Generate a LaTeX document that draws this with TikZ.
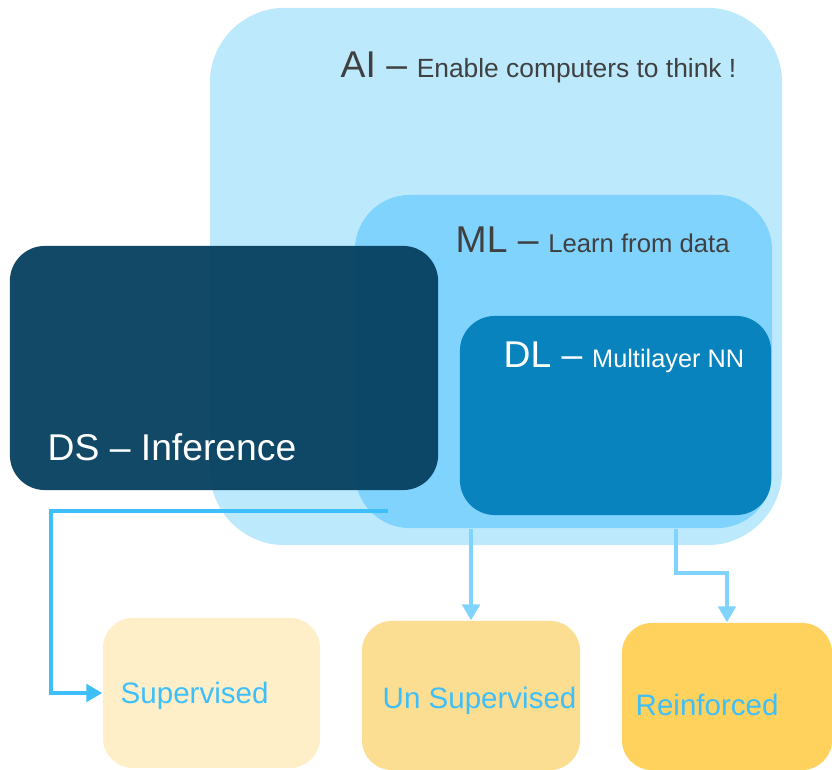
\documentclass[tikz,border=0pt]{standalone}
\usepackage{fontspec}
\setmainfont{Liberation Sans}
\usetikzlibrary{arrows.meta}
\definecolor{AIC}{RGB}{189,233,253}
\definecolor{MLC}{RGB}{128,211,253}
\definecolor{DLC}{RGB}{8,131,190}
\definecolor{DSC}{RGB}{8,66,97}
\definecolor{TXT}{RGB}{64,64,64}
\definecolor{LBL}{RGB}{62,191,249}
\definecolor{S1}{RGB}{254,239,201}
\definecolor{S2}{RGB}{252,222,146}
\definecolor{S3}{RGB}{255,210,94}
\tikzset{
  area/.style={inner sep=0pt, draw=none},
  head/.style={anchor=base west, inner sep=0pt},
  link/.style={line width=0.9pt, -{Triangle[width=5pt,length=4.5pt]}},
}
\newcommand{\bigtxt}[1]{{\fontsize{10.6}{12}\selectfont #1}}
\newcommand{\smalltxt}[2]{{\fontsize{#1}{8}\selectfont #2}}

\begin{document}
\begin{tikzpicture}[x=0.01cm, y=-0.01cm]
      \useasboundingbox (0,0) rectangle (832,770);
      % nested areas
      \node[area, fill=AIC, rounded corners=0.75cm, minimum width=5.72cm, minimum height=5.37cm] (ai) at (496,276.5) {};
      \node[area, fill=MLC, rounded corners=0.55cm, minimum width=4.17cm, minimum height=3.33cm] (ml) at (563.5,361.5) {};
      \node[area, fill=DLC, rounded corners=0.35cm, minimum width=3.11cm, minimum height=1.99cm] (dl) at (615.5,415.5) {};
      \node[area, fill=DSC, fill opacity=0.96, rounded corners=0.35cm, minimum width=4.28cm, minimum height=2.44cm] (ds) at (224,368) {};
      % titles
      \draw (340,78) node[head, TXT] (ailbl) {\bigtxt{AI –} \smalltxt{7.5}{Enable computers to think !}};
      \draw (455,253) node[head, TXT] (mllbl) {\bigtxt{ML –} \smalltxt{7.3}{Learn from data}};
      \draw (503,368) node[head, white] (dllbl) {\bigtxt{DL –} \smalltxt{7.2}{Multilayer NN}};
      \draw (47,461) node[head, white] (dslbl) {\bigtxt{DS – Inference}};
      % learning types
      \node[area, fill=S1, rounded corners=0.3cm, minimum width=2.17cm, minimum height=1.50cm] (sup) at (211.5,693) {};
      \node[area, fill=S2, rounded corners=0.3cm, minimum width=2.18cm, minimum height=1.49cm] (uns) at (471,695.5) {};
      \node[area, fill=S3, rounded corners=0.3cm, minimum width=2.10cm, minimum height=1.47cm] (rf) at (727,696.5) {};
      \draw (120,704) node[head, LBL] (suplbl) {\smalltxt{8.4}{Supervised}};
      \draw (382,709) node[head, LBL] (unslbl) {\smalltxt{8.4}{Un Supervised}};
      \draw (635,716) node[head, LBL] (rflbl) {\smalltxt{8.4}{Reinforced}};
      % arrows
      \coordinate (dsout) at (388,511);
      \coordinate (dsbend) at (51,511);
      \coordinate (rfbend) at (676,573);
      \draw[link, LBL] (dsout) -- (dsbend) |- (sup.west);
      \draw[link, MLC] (ml.south -| uns.north) -- (uns.north);
      \draw[link, MLC] (ml.south -| rfbend) -- (rfbend) -| (rf.north);
    \end{tikzpicture}
\end{document}
